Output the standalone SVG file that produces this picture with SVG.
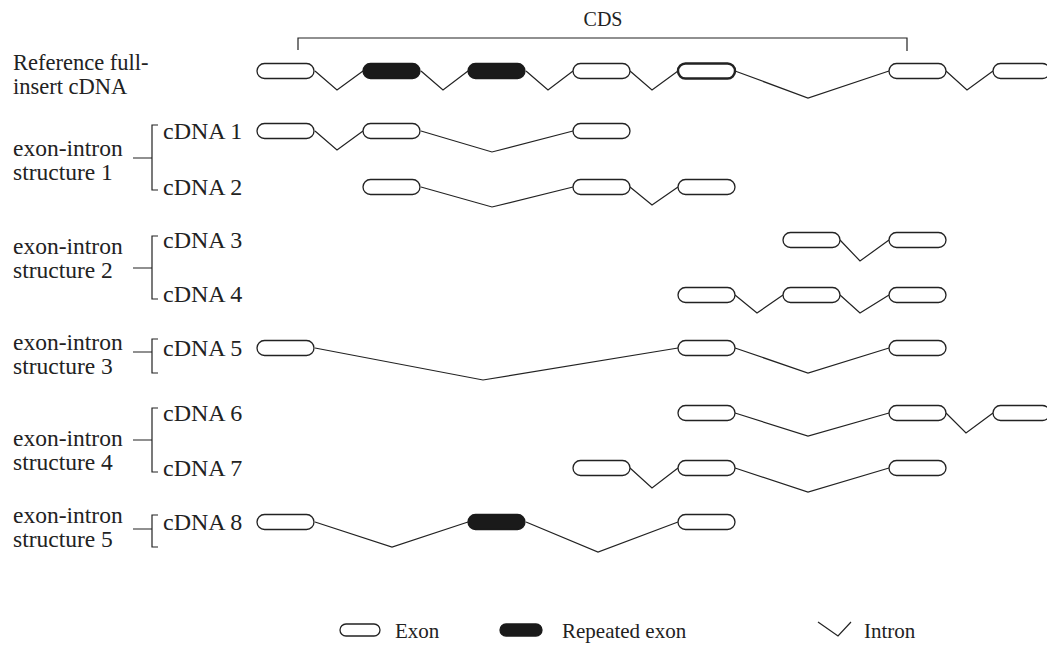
<svg xmlns="http://www.w3.org/2000/svg" width="1047" height="650" viewBox="0 0 1047 650">
<style>
text{font-family:"Liberation Serif","Times New Roman",serif;font-size:22.5px;fill:#222}
.st{font-size:23.5px}
.cd{font-size:24px}
.lg{font-size:21px}
.ex{fill:#fff;stroke:#222;stroke-width:1.3}
.rep{fill:#1a1a1a;stroke:#1a1a1a;stroke-width:1.3}
.bold{fill:#fff;stroke:#222;stroke-width:2.4}
.ln{fill:none;stroke:#222;stroke-width:1.2}
</style>
<defs>
<rect id="exon" x="0" y="-7.5" width="57" height="15" rx="7.5"/>
</defs>
<rect width="1047" height="650" fill="#fff"/>

<g id="cds">
<path class="ln" d="M298,50 V38 H907 V51"/>
<text x="603" y="26" text-anchor="middle" style="font-size:20px">CDS</text>
</g>

<g id="labels">
<text x="13" y="70">Reference full-</text>
<text x="13" y="94">insert cDNA</text>
<text class="st" x="13" y="156">exon-intron</text><text class="st" x="13" y="180">structure 1</text>
<text class="st" x="13" y="254">exon-intron</text><text class="st" x="13" y="278">structure 2</text>
<text class="st" x="13" y="350">exon-intron</text><text class="st" x="13" y="374">structure 3</text>
<text class="st" x="13" y="446">exon-intron</text><text class="st" x="13" y="470">structure 4</text>
<text class="st" x="13" y="523">exon-intron</text><text class="st" x="13" y="547">structure 5</text>
<text class="cd" x="163" y="139">cDNA 1</text>
<text class="cd" x="163" y="195">cDNA 2</text>
<text class="cd" x="163" y="248">cDNA 3</text>
<text class="cd" x="163" y="302">cDNA 4</text>
<text class="cd" x="163" y="356">cDNA 5</text>
<text class="cd" x="163" y="421">cDNA 6</text>
<text class="cd" x="163" y="476">cDNA 7</text>
<text class="cd" x="163" y="530">cDNA 8</text>
</g>

<g id="brackets">
<path class="ln" d="M158,125 H152 V190 H158 M133,158 H152"/>
<path class="ln" d="M158,236 H152 V299 H158 M133,268 H152"/>
<path class="ln" d="M158,339 H152 V373 H158 M133,352 H152"/>
<path class="ln" d="M158,408 H152 V472 H158 M133,440 H152"/>
<path class="ln" d="M158,515 H152 V547 H158 M133,529 H152"/>
</g>

<g id="connectors">
<polyline class="ln" points="315,71 337,90 363,71"/>
<polyline class="ln" points="421,71 443,90 468,71"/>
<polyline class="ln" points="526,71 548,90 573,71"/>
<polyline class="ln" points="630,71 652,90 678,71"/>
<polyline class="ln" points="735,71 808,98 889,71"/>
<polyline class="ln" points="946,71 967,90 993,71"/>

<polyline class="ln" points="315,131 337,150 363,131"/>
<polyline class="ln" points="421,131 492,152 573,131"/>

<polyline class="ln" points="421,187 492,207 573,187"/>
<polyline class="ln" points="630,187 652,205 678,187"/>

<polyline class="ln" points="840,240 860,261 889,240"/>

<polyline class="ln" points="735,295 757,313 783,295"/>
<polyline class="ln" points="840,295 860,313 889,295"/>

<polyline class="ln" points="315,348 483,380 678,348"/>
<polyline class="ln" points="735,348 808,373 889,348"/>

<polyline class="ln" points="735,413 808,436 889,413"/>
<polyline class="ln" points="946,413 966,433 993,413"/>

<polyline class="ln" points="630,468 652,488 678,468"/>
<polyline class="ln" points="735,468 808,492 889,468"/>

<polyline class="ln" points="315,522 392,547 468,522"/>
<polyline class="ln" points="526,522 598,552 678,522"/>
</g>

<g id="ref-cdna">
<use href="#exon" class="ex" x="257" y="71"/>
<use href="#exon" class="rep" x="363" y="71"/>
<use href="#exon" class="rep" x="468" y="71"/>
<use href="#exon" class="ex" x="573" y="71"/>
<use href="#exon" class="bold" x="678" y="71"/>
<use href="#exon" class="ex" x="889" y="71"/>
<use href="#exon" class="ex" x="993" y="71"/>
</g>
<g id="cdna1">
<use href="#exon" class="ex" x="257" y="131"/>
<use href="#exon" class="ex" x="363" y="131"/>
<use href="#exon" class="ex" x="573" y="131"/>
</g>
<g id="cdna2">
<use href="#exon" class="ex" x="363" y="187"/>
<use href="#exon" class="ex" x="573" y="187"/>
<use href="#exon" class="ex" x="678" y="187"/>
</g>
<g id="cdna3">
<use href="#exon" class="ex" x="783" y="240"/>
<use href="#exon" class="ex" x="889" y="240"/>
</g>
<g id="cdna4">
<use href="#exon" class="ex" x="678" y="295"/>
<use href="#exon" class="ex" x="783" y="295"/>
<use href="#exon" class="ex" x="889" y="295"/>
</g>
<g id="cdna5">
<use href="#exon" class="ex" x="257" y="348"/>
<use href="#exon" class="ex" x="678" y="348"/>
<use href="#exon" class="ex" x="889" y="348"/>
</g>
<g id="cdna6">
<use href="#exon" class="ex" x="678" y="413"/>
<use href="#exon" class="ex" x="889" y="413"/>
<use href="#exon" class="ex" x="993" y="413"/>
</g>
<g id="cdna7">
<use href="#exon" class="ex" x="573" y="468"/>
<use href="#exon" class="ex" x="678" y="468"/>
<use href="#exon" class="ex" x="889" y="468"/>
</g>
<g id="cdna8">
<use href="#exon" class="ex" x="257" y="522"/>
<use href="#exon" class="rep" x="468" y="522"/>
<use href="#exon" class="ex" x="678" y="522"/>
</g>

<g id="legend">
<rect class="ex" x="340" y="624" width="40" height="12" rx="6"/>
<text class="lg" x="395" y="638">Exon</text>
<rect class="rep" x="500" y="624" width="42" height="12" rx="6"/>
<text class="lg" x="562" y="638">Repeated exon</text>
<polyline class="ln" points="818,622 838,636 851,622"/>
<text class="lg" x="864" y="638">Intron</text>
</g>
</svg>
